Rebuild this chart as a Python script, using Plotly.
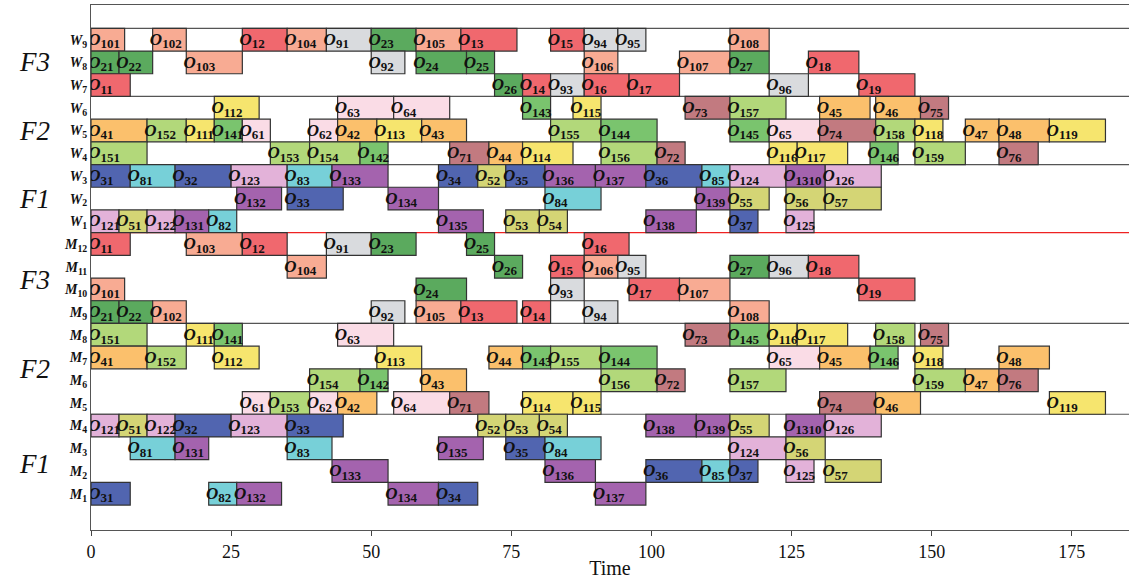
import plotly.graph_objects as go

# resource rows, top to bottom
rows = ["W9", "W8", "W7", "W6", "W5", "W4", "W3", "W2", "W1",
        "M12", "M11", "M10", "M9", "M8", "M7", "M6", "M5", "M4", "M3", "M2", "M1"]

# operations: resource, job, op index, start, end
task_res = (["W9"] * 12 + ["W8"] * 10 + ["W7"] * 8 + ["W6"] * 10 + ["W5"] * 19 + ["W4"] * 14 +
            ["W3"] * 16 + ["W2"] * 8 + ["W1"] * 11 +
            ["M12"] * 7 + ["M11"] * 8 + ["M10"] * 6 + ["M9"] * 9 + ["M8"] * 10 + ["M7"] * 13 +
            ["M6"] * 9 + ["M5"] * 11 + ["M4"] * 14 + ["M3"] * 8 + ["M2"] * 7 + ["M1"] * 6)
task_job = [
    10, 10, 1, 10, 9, 2, 10, 1, 1, 9, 9, 10,
    2, 2, 10, 9, 2, 2, 10, 10, 2, 1,
    1, 2, 1, 9, 1, 1, 9, 1,
    11, 6, 6, 14, 11, 7, 15, 4, 4, 7,
    4, 15, 11, 14, 6, 6, 4, 11, 4, 15, 14, 14, 6, 7, 15, 11, 4, 4, 11,
    15, 15, 15, 14, 7, 4, 11, 15, 7, 11, 11, 14, 15, 7,
    3, 8, 3, 12, 8, 13, 3, 5, 3, 13, 13, 3, 8, 12, 13, 12,
    13, 3, 13, 8, 13, 5, 5, 5,
    12, 5, 12, 13, 8, 13, 5, 5, 13, 3, 12,
    1, 10, 1, 9, 2, 2, 1,
    10, 2, 1, 10, 9, 2, 9, 1,
    10, 2, 9, 1, 10, 1,
    2, 2, 10, 9, 10, 1, 1, 9, 10,
    15, 11, 14, 6, 7, 14, 11, 11, 15, 7,
    4, 15, 11, 11, 4, 14, 15, 14, 6, 4, 14, 11, 4,
    15, 14, 4, 15, 7, 15, 15, 4, 7,
    6, 15, 6, 4, 6, 7, 11, 11, 7, 4, 11,
    12, 5, 12, 3, 12, 3, 5, 5, 5, 13, 13, 5, 13, 12,
    8, 13, 8, 13, 3, 8, 12, 5,
    13, 13, 3, 8, 3, 12, 5,
    3, 8, 13, 13, 3, 13,
]
task_op = [
    1, 2, 2, 4, 1, 3, 5, 3, 5, 4, 5, 8,
    1, 2, 3, 2, 4, 5, 6, 7, 7, 8,
    1, 6, 4, 3, 6, 7, 6, 9,
    2, 3, 4, 3, 5, 3, 7, 5, 6, 5,
    1, 2, 1, 1, 1, 2, 2, 3, 3, 5, 4, 5, 5, 4, 8, 8, 7, 8, 9,
    1, 3, 4, 2, 1, 4, 4, 6, 2, 6, 7, 6, 9, 6,
    1, 1, 2, 3, 3, 3, 4, 2, 5, 6, 7, 6, 5, 4, 10, 6,
    2, 3, 4, 4, 9, 5, 6, 7,
    1, 1, 2, 1, 2, 5, 3, 4, 8, 7, 5,
    1, 3, 2, 1, 3, 5, 6,
    4, 6, 5, 6, 5, 7, 6, 8,
    1, 4, 3, 7, 7, 9,
    1, 2, 2, 2, 5, 3, 4, 4, 8,
    1, 1, 1, 3, 3, 5, 6, 7, 8, 5,
    1, 2, 2, 3, 4, 3, 5, 4, 5, 5, 6, 8, 8,
    4, 2, 3, 6, 2, 7, 9, 7, 6,
    1, 3, 2, 2, 4, 1, 4, 5, 4, 6, 9,
    1, 1, 2, 2, 3, 3, 2, 3, 4, 8, 9, 5, 10, 6,
    1, 1, 3, 5, 5, 4, 4, 6,
    3, 6, 6, 5, 7, 5, 7,
    1, 2, 2, 4, 4, 7,
]
task_start = [
    0, 11, 27, 35, 42, 50, 58, 66, 82, 88, 94, 114,
    0, 5, 17, 50, 58, 67, 88, 105, 114, 128,
    0, 72, 77, 82, 88, 96, 121, 137,
    22, 44, 54, 77, 86, 106, 114, 130, 140, 148,
    0, 10, 17, 22, 27, 39, 44, 51, 59, 82, 91, 114, 121, 130, 140, 147, 156, 162, 171,
    0, 32, 39, 48, 64, 71, 77, 91, 101, 121, 126, 139, 147, 162,
    0, 7, 15, 25, 35, 43, 62, 69, 74, 81, 90, 99, 109, 114, 124, 131,
    26, 35, 53, 81, 108, 114, 124, 131,
    0, 5, 10, 15, 21, 62, 74, 80, 99, 114, 124,
    0, 17, 27, 42, 50, 67, 88,
    35, 72, 82, 88, 94, 114, 121, 128,
    0, 58, 82, 96, 105, 137,
    0, 5, 11, 50, 58, 66, 77, 88, 114,
    0, 17, 22, 44, 106, 114, 121, 126, 140, 148,
    0, 10, 22, 51, 71, 77, 82, 91, 121, 130, 139, 147, 162,
    39, 48, 59, 91, 101, 114, 147, 156, 162,
    27, 32, 39, 44, 54, 64, 77, 86, 130, 140, 171,
    0, 5, 10, 15, 25, 35, 69, 74, 80, 99, 108, 114, 124, 131,
    7, 15, 35, 62, 74, 81, 114, 124,
    43, 81, 99, 109, 114, 124, 131,
    0, 21, 26, 53, 62, 90,
]
task_end = [
    6, 17, 35, 42, 50, 58, 66, 76, 88, 94, 99, 121,
    5, 11, 27, 56, 67, 72, 94, 114, 121, 137,
    7, 77, 82, 88, 96, 105, 128, 147,
    30, 54, 64, 82, 91, 114, 124, 139, 148, 153,
    10, 17, 22, 27, 32, 44, 51, 59, 67, 91, 101, 121, 130, 140, 147, 152, 162, 171, 181,
    10, 39, 48, 53, 71, 77, 86, 101, 106, 126, 135, 144, 156, 169,
    7, 15, 25, 35, 43, 53, 69, 74, 81, 90, 99, 109, 114, 124, 131, 141,
    34, 45, 62, 91, 114, 121, 131, 141,
    5, 10, 15, 21, 26, 70, 80, 85, 108, 119, 129,
    7, 27, 35, 50, 58, 72, 96,
    42, 77, 88, 94, 99, 121, 128, 137,
    6, 67, 88, 105, 114, 147,
    5, 11, 17, 56, 66, 76, 82, 94, 121,
    10, 22, 27, 54, 114, 121, 126, 135, 147, 153,
    10, 17, 30, 59, 77, 82, 91, 101, 130, 139, 144, 152, 171,
    48, 53, 67, 101, 106, 124, 156, 162, 169,
    32, 39, 44, 51, 64, 71, 86, 91, 140, 148, 181,
    5, 10, 15, 25, 35, 45, 74, 80, 85, 108, 114, 121, 131, 141,
    15, 21, 43, 70, 81, 91, 124, 131,
    53, 90, 109, 114, 119, 129, 141,
    7, 26, 34, 62, 69, 99,
]

job_colors = {
    1: "#F0686E", 2: "#5BAA5E", 3: "#5165B0", 4: "#FBC06C", 5: "#D4D575",
    6: "#FADCE6", 7: "#C27A80", 8: "#77D0D8", 9: "#D9DBDE", 10: "#F8AB93",
    11: "#F6E56E", 12: "#E3B2D9", 13: "#A463AE", 14: "#7AC46E", 15: "#B2D87A",
}

# group labels and their row positions
group_labels = ["F3", "F2", "F1", "F3", "F2", "F1"]
group_label_pos = [20.0, 17.0, 14.0, 10.4, 6.5, 2.3]

x_ticks = [0, 25, 50, 75, 100, 125, 150, 175]

SERIF = "Times New Roman, Liberation Serif, serif"

row_y = {r: len(rows) - i for i, r in enumerate(rows)}

ys = [row_y[r] for r in task_res]
durs = [e - s for s, e in zip(task_start, task_end)]
cols = [job_colors[j] for j in task_job]
labels = ["<b><i>O</i><sub><span style='font-size:13px'>%d%d</span></sub></b>" % (j, o)
          for j, o in zip(task_job, task_op)]

fig = go.Figure()
fig.add_trace(go.Bar(
    orientation="h", y=ys, x=durs, base=task_start, width=1,
    marker=dict(color=cols, line=dict(color="#333333", width=1.2)),
    hoverinfo="skip", showlegend=False,
))
fig.add_trace(go.Scatter(
    x=[s - 0.5 for s in task_start], y=[y - 0.04 for y in ys], mode="text", text=labels,
    textposition="middle right",
    textfont=dict(family=SERIF, size=17, color="#111111"),
    hoverinfo="skip", showlegend=False,
))

# separators between groups
sep_lines = [(21.5, "#555555"), (18.5, "#555555"), (15.5, "#555555"),
             (12.5, "#EE2222"), (8.5, "#555555"), (4.5, "#555555")]
for yv, c in sep_lines:
    fig.add_shape(type="line", xref="paper", x0=0, x1=1, yref="y", y0=yv, y1=yv,
                  line=dict(color=c, width=1.2), layer="below")

for t, p in zip(group_labels, group_label_pos):
    fig.add_annotation(xref="paper", x=-0.054, yref="y", y=p, text="<i>%s</i>" % t,
                       showarrow=False, xanchor="center", yanchor="middle",
                       font=dict(family=SERIF, size=27, color="#111111"))

tick_text = ["<b><i>%s</i><sub>%s</sub></b>" % (r[0], r[1:]) for r in rows]

fig.update_layout(
    width=1129, height=581,
    margin=dict(l=91, r=0, t=5, b=51),
    plot_bgcolor="white", paper_bgcolor="white",
    barmode="overlay",
    font=dict(family=SERIF, color="#111111"),
    xaxis=dict(range=[0, 185.2], tickvals=x_ticks, ticks="outside", ticklen=5,
               showline=True, linecolor="#555555", linewidth=1, mirror=True,
               showgrid=False, zeroline=False, automargin=False,
               tickfont=dict(family=SERIF, size=18),
               title=dict(text="Time", font=dict(family=SERIF, size=20), standoff=0)),
    yaxis=dict(range=[-0.6, 22.53], tickvals=[row_y[r] for r in rows], ticktext=tick_text,
               showline=True, linecolor="#555555", linewidth=1, mirror=False,
               showgrid=False, zeroline=False, ticks="", automargin=False,
               tickfont=dict(family=SERIF, size=14)),
)

fig.write_html("out.html", config={"displayModeBar": False},
               post_script="document.body.style.margin='0';")
